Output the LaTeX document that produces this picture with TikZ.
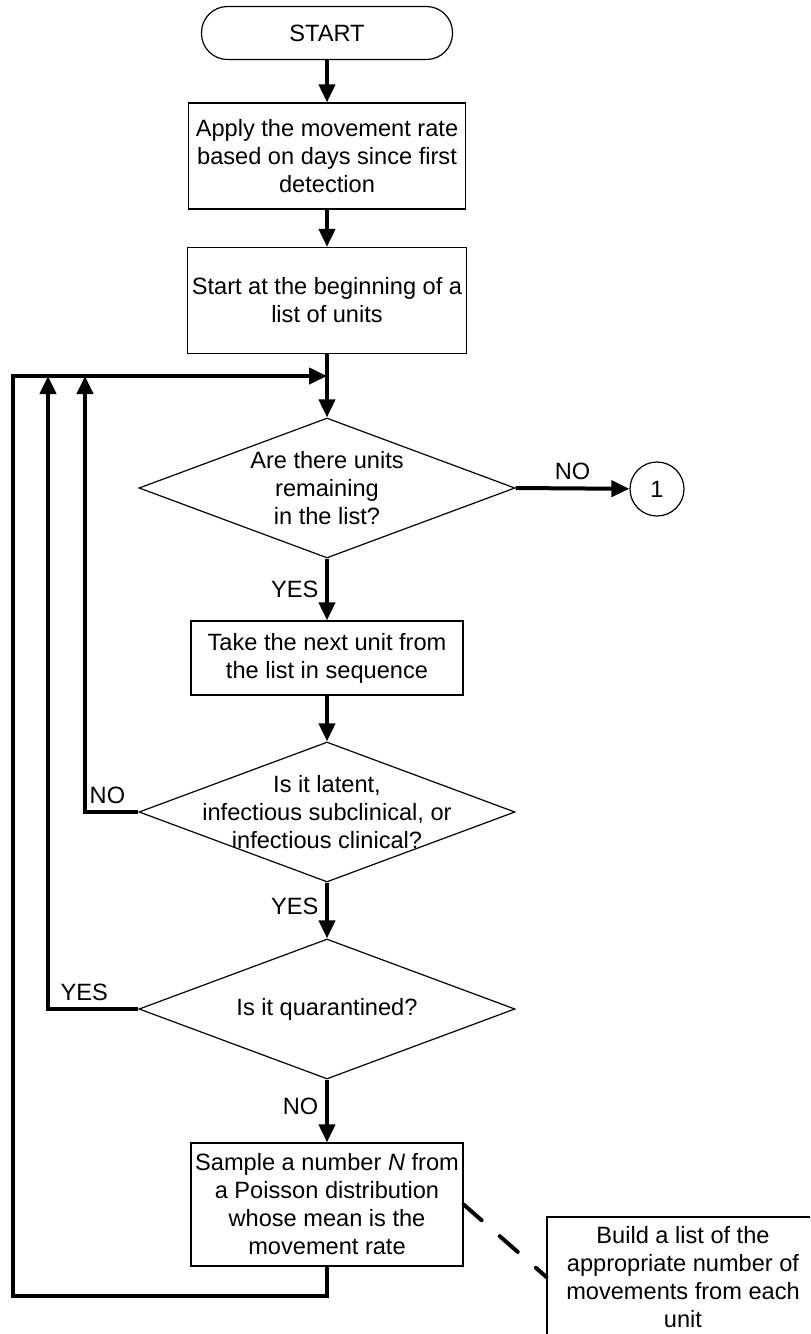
\documentclass[tikz,border=0pt]{standalone}
\usepackage{fontspec}
\setmainfont{Liberation Sans}
\usetikzlibrary{arrows.meta,shapes.geometric}

\tikzset{
  base/.style={font=\fontsize{11.8}{14}\selectfont, align=center},
  box/.style={base, draw, line width=0.6pt, minimum width=136pt, minimum height=37pt, inner sep=2pt},
  term/.style={box, rounded corners=13pt, minimum width=125.5pt, minimum height=26.5pt},
  decision/.style={draw, diamond, line width=0.6pt, inner sep=0pt, minimum width=188pt, minimum height=70pt},
  conn/.style={base, draw, circle, line width=0.6pt, minimum size=27pt, inner sep=0pt},
  flow/.style={line width=2pt, -{Triangle[length=9pt,width=8pt]}},
  assoc/.style={line width=2pt, dash pattern=on 12pt off 12pt, line cap=round},
  lbl/.style={base}
}

\begin{document}
\begin{tikzpicture}[x=0.5pt,y=-0.5pt]
       \clip (0,0) rectangle (810,1334);
       % steps
       \node[term] (start)  at (327,  33) {START};
       \node[box, minimum width=138.5pt, minimum height=53pt] (apply) at (327, 156)
            {Apply the movement rate\\based on days since first\\detection};
       \node[box, minimum width=138.5pt, minimum height=53pt] (begin) at (327, 300.5)
            {Start at the beginning of a\\list of units};
       \node[decision] (remain) at (327, 488) {};
       \node[base] (remaint) at (remain) {Are there units\\remaining\\in the list?};
       \node[conn] (one)    at (657, 489) {1};
       \node[box] (take)    at (327, 658) {Take the next unit from\\the list in sequence};
       \node[decision] (state) at (327, 812) {};
       \node[base] (statet) at (state) {Is it latent,\\infectious subclinical, or\\infectious clinical?};
       \node[decision] (quar) at (327,1009) {};
       \node[base] (quart) at (quar) {Is it quarantined?};
       \node[box, minimum height=61.5pt] (sample) at (327,1204.5)
            {Sample a number \textit{N} from\\a Poisson distribution\\whose mean is the\\movement rate};
       \node[box, minimum height=60pt] (build) at (683,1277)
            {Build a list of the\\appropriate number of\\movements from each\\unit};
       % loop points
       \coordinate (join)  at (327, 376);
       \coordinate (outer) at ( 13, 376);
       \coordinate (mid)   at ( 48, 376);
       \coordinate (inner) at ( 85, 376);
       \coordinate (bot)   at (327,1296);
       % connectors
       \draw[flow] (start) -- (apply);
       \draw[flow] (apply) -- (begin);
       \draw[flow] (begin) -- (remain);
       \draw[flow] (remain.east) -- (one) node[lbl, midway, above] {NO};
       \draw[flow] (remain.south) -- (take) node[lbl, midway, left] {YES};
       \draw[flow] (take) -- (state.north);
       \draw[flow] (state.south) -- (quar.north) node[lbl, pos=0.42, left] {YES};
       \draw[flow] (state.west) -| (inner) node[lbl, pos=0.29, above] {NO};
       \draw[flow] (quar.south) -- (sample) node[lbl, pos=0.42, left] {NO};
       \draw[flow] (quar.west) -| (mid) node[lbl, pos=0.3, above] {YES};
       \draw[flow] (sample) -- (bot) -| (outer) -- (join);
       \draw[assoc] (sample.east) -- (build.west);
      \end{tikzpicture}
\end{document}
